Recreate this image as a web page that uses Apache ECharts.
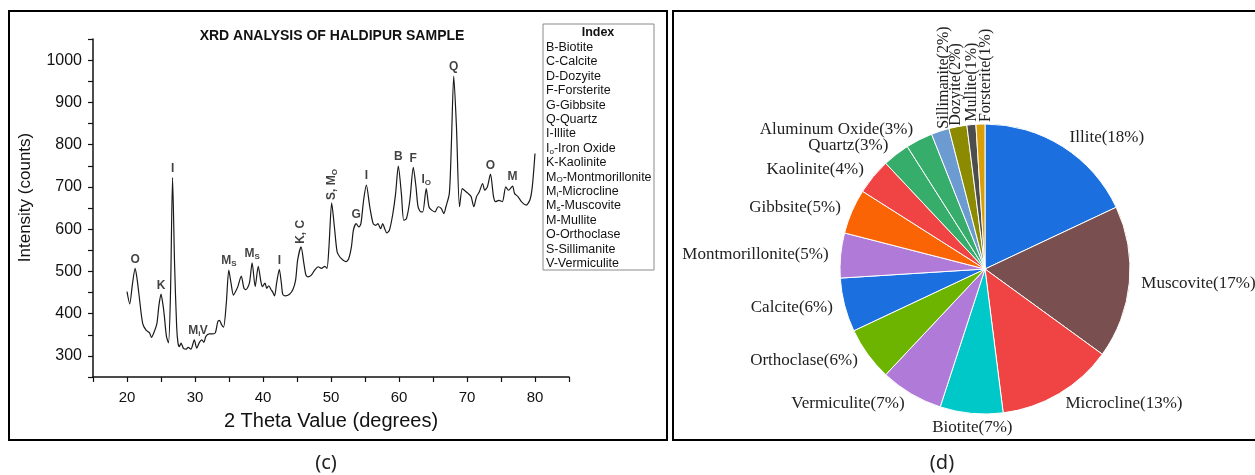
<!DOCTYPE html>
<html>
<head>
<meta charset="utf-8">
<script src="https://cdn.jsdelivr.net/npm/echarts@6/dist/echarts.min.js"></script>
<style>
  html, body { margin: 0; padding: 0; background: #fff; }
  #chart { width: 1255px; height: 475px; }
</style>
</head>
<body>
<div id="chart"></div>
<script>
// ---- XRD pattern (2θ in degrees, intensity in counts) ----
const thetaValues = [
  20.0, 20.4, 20.8, 21.2, 21.5, 21.8, 22.3, 22.8, 23.3, 23.6, 24.0, 24.4, 24.7, 25.0, 25.3, 25.5,
  25.8, 26.1, 26.4, 26.7, 27.0, 27.3, 27.5, 27.7, 27.95, 28.3, 28.7, 29.0, 29.4, 29.9, 30.25, 30.65,
  31.0, 31.3, 31.6, 32.1, 32.6, 33.0, 33.35, 33.6, 33.9, 34.2, 34.6, 34.97, 35.3, 35.65, 35.95, 36.3,
  36.8, 37.2, 37.5, 38.0, 38.4, 38.85, 39.3, 39.7, 39.9, 40.3, 40.55, 40.85, 41.2, 41.4, 41.7, 42.0,
  42.4, 42.7, 42.9, 43.25, 43.9, 44.4, 44.8, 45.1, 45.6, 46.0, 46.3, 46.6, 47.1, 47.6, 48.1, 48.6,
  49.1, 49.4, 49.7, 50.1, 50.5, 50.9, 51.3, 51.75, 52.2, 52.6, 53.0, 53.3, 53.7, 54.1, 54.4, 54.8,
  55.2, 55.7, 56.2, 56.6, 56.9, 57.3, 57.6, 57.9, 58.2, 58.6, 59.1, 59.5, 59.9, 60.35, 60.7, 61.1,
  61.6, 62.1, 62.5, 62.8, 63.2, 63.5, 64.0, 64.4, 64.8, 65.3, 65.75, 66.2, 66.6, 66.9, 67.4, 67.7,
  68.05, 68.45, 68.9, 69.3, 69.6, 70.2, 70.6, 71.0, 71.4, 71.8, 72.3, 72.6, 73.0, 73.45, 73.9, 74.2,
  74.7, 75.2, 75.7, 76.1, 76.7, 77.0, 77.5, 78.0, 78.7, 79.25, 79.6, 80.0
];
const countValues = [
  452, 423, 470, 507, 480, 440, 377, 361, 355, 344, 357, 377, 420, 446, 420, 393,
  346, 331, 450, 722, 515, 370, 330, 322, 330, 318, 316, 320, 316, 338, 318, 332,
  338, 332, 346, 352, 352, 355, 381, 384, 374, 368, 424, 503, 472, 444, 452, 464,
  489, 460, 457, 472, 520, 464, 512, 475, 464, 472, 460, 466, 456, 452, 442, 472,
  505, 472, 446, 442, 446, 457, 480, 527, 558, 520, 492, 487, 491, 503, 511, 507,
  512, 507, 558, 662, 605, 546, 534, 527, 523, 530, 558, 598, 613, 605, 613, 669,
  704, 653, 613, 609, 613, 601, 613, 601, 591, 598, 637, 684, 749, 684, 621, 625,
  669, 746, 700, 653, 641, 641, 696, 653, 645, 641, 653, 649, 637, 653, 684, 800,
  962, 842, 653, 696, 692, 684, 677, 653, 677, 688, 708, 692, 700, 730, 677, 665,
  668, 665, 700, 692, 702, 684, 677, 665, 657, 669, 700, 779
];

// ---- Peak identifications ----
const peakTheta  = [21.2, 25.0, 26.7, 29.9, 31.3, 34.97, 38.4, 42.4, 45.6, 50.1, 53.7, 55.2, 59.9, 62.1, 64.0, 68.05, 73.45, 76.7];
const peakCounts = [507, 446, 722, 338, 338, 503, 520, 505, 558, 662, 613, 704, 749, 746, 696, 962, 730, 702];
const peakLabels = [
  '{b|O}', '{b|K}', '{b|I}', '{b|M}{s|i}', '{b|V}', '{b|M}{s|S}', '{b|M}{s|S}', '{b|I}',
  '{b|K, C}', '{b|S, M}{s|O}', '{b|G}', '{b|I}', '{b|B}', '{b|F}', '{b|I}{s|O}', '{b|Q}', '{b|O}', '{b|M}'
];
const peakVertical = [false, false, false, false, false, false, false, false, true, true, false, false, false, false, false, false, false, false];

// ---- Phase index ----
const indexTitle = 'Index';
const indexLines = [
  '{t|B-Biotite}', '{t|C-Calcite}', '{t|D-Dozyite}', '{t|F-Forsterite}', '{t|G-Gibbsite}',
  '{t|Q-Quartz}', '{t|I-Illite}', '{t|I}{s|o}{t|-Iron Oxide}', '{t|K-Kaolinite}',
  '{t|M}{s|O}{t|-Montmorillonite}', '{t|M}{s|i}{t|-Microcline}', '{t|M}{s|s}{t|-Muscovite}',
  '{t|M-Mullite}', '{t|O-Orthoclase}', '{t|S-Sillimanite}', '{t|V-Vermiculite}'
];

// ---- Mineral composition ----
const mineralNames = ['Illite', 'Muscovite', 'Microcline', 'Biotite', 'Vermiculite', 'Orthoclase', 'Calcite',
  'Montmorillonite', 'Gibbsite', 'Kaolinite', 'Quartz', 'Aluminum Oxide', 'Sillimanite', 'Dozyite', 'Mullite', 'Forsterite'];
const mineralPercent = [18, 17, 13, 7, 7, 6, 6, 5, 5, 4, 3, 3, 2, 2, 1, 1];
const mineralColors = ['#1b6fdf', '#7a4f4f', '#f04343', '#00c8c8', '#b07ad9', '#6cb400', '#1b6fdf', '#b07ad9',
  '#fb6404', '#f04343', '#37ad6b', '#37ad6b', '#6b9bd0', '#8c8a00', '#4d4d4d', '#d8a006'];

// ---- Axis ticks ----
const xTickLabels = [20, 30, 40, 50, 60, 70, 80];
const yTickLabels = [300, 400, 500, 600, 700, 800, 900, 1000];

const sans = '"Liberation Sans", Arial, sans-serif';
const serif = '"Liberation Serif", "Times New Roman", serif';
const ink = '#111';

const chart = echarts.init(document.getElementById('chart'), null, { renderer: 'canvas' });

const peakRich = {
  b: { fontFamily: sans, fontWeight: 'bold', fontSize: 12, color: ink, lineHeight: 14 },
  s: { fontFamily: sans, fontWeight: 'bold', fontSize: 8, color: ink, lineHeight: 8, padding: [7, 0, 0, 0], verticalAlign: 'bottom' }
};

const indexRich = {
  t: { fontFamily: sans, fontSize: 12.5, fill: ink, lineHeight: 14 },
  s: { fontFamily: sans, fontSize: 8, fill: ink, lineHeight: 8, padding: [7, 0, 0, 0], verticalAlign: 'bottom' }
};

// Offsets for the four vertical labels of the smallest slices, given in the
// rotated label frame: dx runs along the text, dy across it.
const smallSliceShift = {
  12: { dx: -8, dy: 8 },   // Sillimanite
  13: { dx: -10, dy: 1 },  // Dozyite
  14: { dx: -8, dy: 2 },   // Mullite
  15: { dx: -9, dy: 7 }    // Forsterite
};

const graphics = [
  // panel frames
  { type: 'rect', shape: { x: 9, y: 11, width: 658, height: 429 }, style: { fill: 'none', stroke: '#000', lineWidth: 2 } },
  { type: 'rect', shape: { x: 673, y: 11, width: 600, height: 429 }, style: { fill: 'none', stroke: '#000', lineWidth: 2 } },
  // chart title
  { type: 'text', x: 332, y: 36, style: { text: 'XRD ANALYSIS OF HALDIPUR SAMPLE', align: 'center', verticalAlign: 'middle',
      fontFamily: sans, fontWeight: 'bold', fontSize: 14, fill: ink } },
  // index box
  { type: 'rect', z: 10, shape: { x: 543, y: 24, width: 111, height: 246 }, style: { fill: '#fff', stroke: '#8a8a8a', lineWidth: 1 } },
  { type: 'text', z: 11, x: 598, y: 33, style: { text: indexTitle, align: 'center', verticalAlign: 'middle',
      fontFamily: sans, fontWeight: 'bold', fontSize: 12.5, fill: ink } },
  // panel captions
  { type: 'text', x: 326, y: 463, style: { text: '(c)', align: 'center', verticalAlign: 'middle', fontFamily: '"Noto Sans", sans-serif', fontSize: 20, fill: '#222' } },
  { type: 'text', x: 942, y: 463, style: { text: '(d)', align: 'center', verticalAlign: 'middle', fontFamily: '"Noto Sans", sans-serif', fontSize: 20, fill: '#222' } }
];
indexLines.forEach(function (line, i) {
  graphics.push({ type: 'text', z: 11, x: 546, y: 47.5 + i * 14.4,
    style: { text: line, align: 'left', verticalAlign: 'middle', rich: indexRich } });
});

const option = {
  animation: false,
  backgroundColor: '#fff',
  grid: { left: 93, top: 39, width: 476, height: 338 },
  xAxis: {
    type: 'value', min: 15, max: 85, interval: 5,
    axisLine: { lineStyle: { color: ink, width: 1.5 } },
    axisTick: { length: 5, lineStyle: { color: ink, width: 1.2 } },
    splitLine: { show: false },
    axisLabel: {
      margin: 13, fontFamily: sans, fontSize: 15, color: ink,
      formatter: function (v) { return xTickLabels.indexOf(v) >= 0 ? String(v) : ''; }
    },
    name: '2 Theta Value (degrees)', nameLocation: 'middle', nameGap: 34,
    nameTextStyle: { fontFamily: sans, fontSize: 20, color: ink }
  },
  yAxis: {
    type: 'value', min: 250, max: 1050, interval: 50,
    axisLine: { show: true, lineStyle: { color: ink, width: 1.5 } },
    axisTick: { show: true, length: 5, lineStyle: { color: ink, width: 1.2 } },
    splitLine: { show: false },
    axisLabel: {
      margin: 11, fontFamily: sans, fontSize: 16, color: ink,
      formatter: function (v) { return yTickLabels.indexOf(v) >= 0 ? String(v) : ''; }
    },
    name: 'Intensity (counts)', nameLocation: 'middle', nameGap: 59,
    nameTextStyle: { fontFamily: sans, fontSize: 17, color: ink, padding: [0, 0, 0, 21] }
  },
  series: [
    {
      type: 'line',
      data: thetaValues.map(function (t, i) { return [t, countValues[i]]; }),
      showSymbol: false,
      smooth: 0.25,
      lineStyle: { color: '#1a1a1a', width: 1.2 },
      z: 2
    },
    {
      type: 'scatter',
      symbolSize: 0,
      data: peakTheta.map(function (t, i) {
        const item = { value: [t, peakCounts[i]] };
        if (peakVertical[i]) item.label = { rotate: 90, align: 'left', verticalAlign: 'middle', distance: 3 };
        return item;
      }),
      label: {
        show: true, position: 'top', distance: 2,
        formatter: function (p) { return peakLabels[p.dataIndex]; },
        rich: peakRich
      },
      z: 3
    },
    {
      type: 'pie',
      center: [985, 269],
      radius: 145,
      startAngle: 90,
      clockwise: true,
      avoidLabelOverlap: false,
      data: mineralNames.map(function (n, i) {
        return { name: n, value: mineralPercent[i], itemStyle: { color: mineralColors[i] } };
      }),
      itemStyle: { borderColor: '#fff', borderWidth: 1 },
      label: {
        show: true, position: 'outside', formatter: '{b}({c}%)',
        fontFamily: serif, fontSize: 17, color: '#222', distanceToLabelLine: 1
      },
      labelLine: { show: false, length: 11, length2: 0 },
      labelLayout: function (params) {
        const i = params.dataIndex;
        if (i === 3) return { align: 'center', dx: 3, dy: 3 };
        if (i >= 12) {
          return { rotate: 90, align: 'left', fontSize: 16, dx: smallSliceShift[i].dx, dy: smallSliceShift[i].dy };
        }
        return {};
      },
      emphasis: { disabled: true }
    }
  ],
  graphic: graphics
};

chart.setOption(option);
</script>
</body>
</html>
